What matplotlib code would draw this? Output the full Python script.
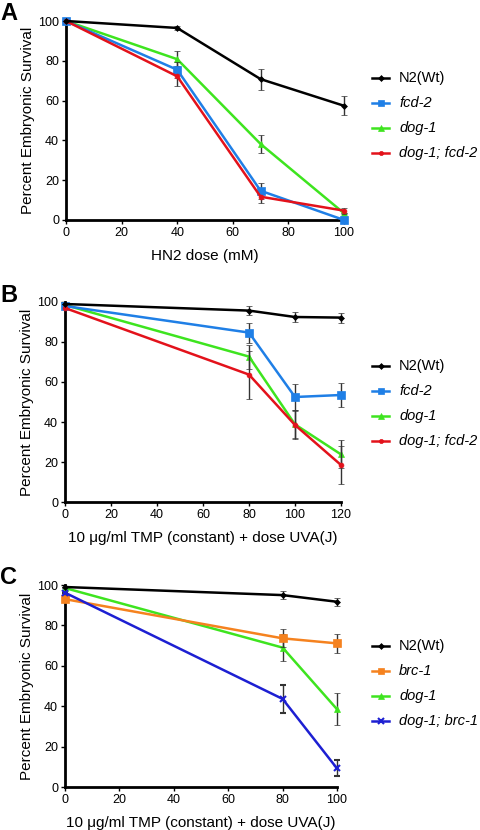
import matplotlib
matplotlib.use("Agg")
import matplotlib.pyplot as plt
from matplotlib.lines import Line2D

plt.rcParams['font.family'] = ['Liberation Sans', 'DejaVu Sans']

# ---- Panel A data ----
a_x = [0, 40, 70, 100]
a_labels = ["N2(Wt)", "fcd-2", "dog-1", "dog-1; fcd-2"]
a_n2 = [100, 96.5, 70.8, 57.4]
a_n2_err = [0, 1, 5.3, 4.8]
a_fcd2 = [100, 75.5, 14.7, 0]
a_fcd2_err = [0, 4, 4, 0]
a_dog1 = [100, 80.8, 38.2, 3.4]
a_dog1_err = [0, 4, 4.7, 0]
a_dogfcd = [100, 72.2, 11.7, 4.7]
a_dogfcd_err = [0, 5, 3, 1.5]
a_xticks = [0, 20, 40, 60, 80, 100]

# ---- Panel B data ----
b_x = [0, 80, 100, 120]
b_labels = ["N2(Wt)", "fcd-2", "dog-1", "dog-1; fcd-2"]
b_n2 = [99, 95.7, 92.5, 92.2]
b_n2_err = [0, 2.3, 2.5, 2.5]
b_fcd2 = [98, 84.7, 52.5, 53.5]
b_fcd2_err = [0, 5, 6.3, 6]
b_dog1 = [98.5, 72.7, 38.8, 23.8]
b_dog1_err = [0, 6, 7, 7]
b_dogfcd = [97, 63.7, 38.5, 18.5]
b_dogfcd_err = [0, 12, 7, 9.5]
b_xticks = [0, 20, 40, 60, 80, 100, 120]

# ---- Panel C data ----
c_x = [0, 80, 100]
c_labels = ["N2(Wt)", "brc-1", "dog-1", "dog-1; brc-1"]
c_n2 = [99, 95, 91.7]
c_n2_err = [0, 2, 2]
c_brc1 = [93, 73.6, 71.1]
c_brc1_err = [0, 4.5, 4.8]
c_dog1 = [98.5, 69, 38.5]
c_dog1_err = [0, 6.5, 8]
c_dogbrc = [96.2, 43.6, 9.2]
c_dogbrc_err = [0, 7, 4]
c_xticks = [0, 20, 40, 60, 80, 100]

yticks = [0, 20, 40, 60, 80, 100]

BLACK = "#000000"
BLUE = "#1f7fe6"
GREEN = "#3ee41f"
RED = "#e3121b"
ORANGE = "#f5821f"
DBLUE = "#1d1fd2"

fig = plt.figure(figsize=(4.8, 8.3), dpi=100)
W, H = 480, 830


def ax_at(l, r, t, b):
    return fig.add_axes([l / W, 1 - b / H, (r - l) / W, (b - t) / H])


def draw_series(ax, x, y, e, color, marker, ms, z):
    ax.errorbar(x, y, yerr=e, color=color, marker=marker, ms=ms, lw=1.8,
                ecolor="#333333", elinewidth=1.0, capsize=2.5, capthick=1.0,
                clip_on=False, zorder=z, mew=1.5 if marker == 'x' else 0.5,
                mec=color)


def style_axes(ax, xmax, xticks, xlabel):
    ax.set_xlim(0, xmax)
    ax.set_ylim(0, 100)
    ax.set_xticks(xticks)
    ax.set_yticks(yticks)
    for s in ("top", "right"):
        ax.spines[s].set_visible(False)
    for s in ("left", "bottom"):
        ax.spines[s].set_linewidth(2)
    ax.tick_params(labelsize=9, width=1, length=3, pad=2)
    ax.set_ylabel("Percent Embryonic Survival", fontsize=11, labelpad=2)
    ax.set_xlabel(xlabel, fontsize=11, labelpad=7)


def legend(handles_spec, y0):
    for i, (lab, color, marker, ms, ital) in enumerate(handles_spec):
        y = y0 + i * 25
        yf = 1 - y / H
        fig.add_artist(Line2D([372 / W, 389 / W], [yf, yf], color=color, lw=1.8,
                              transform=fig.transFigure))
        fig.add_artist(Line2D([380.5 / W], [yf], color=color, marker=marker, ms=ms,
                              mew=1.5 if marker == 'x' else 0.5, mec=color,
                              transform=fig.transFigure))
        fig.text(399 / W, yf, lab, fontsize=10.5, va="center", ha="left",
                 style="italic" if ital else "normal")


# Panel A
axA = ax_at(66, 344, 21, 220)
draw_series(axA, a_x, a_n2, a_n2_err, BLACK, "D", 3, 5)
draw_series(axA, a_x, a_fcd2, a_fcd2_err, BLUE, "s", 6, 4)
draw_series(axA, a_x, a_dog1, a_dog1_err, GREEN, "^", 5, 3)
draw_series(axA, a_x, a_dogfcd, a_dogfcd_err, RED, "o", 3.5, 4)
style_axes(axA, 100, a_xticks, "HN2 dose (mM)")
legend([(a_labels[0], BLACK, "D", 3, False), (a_labels[1], BLUE, "s", 5, True),
        (a_labels[2], GREEN, "^", 4.5, True), (a_labels[3], RED, "o", 3, True)], 78)
fig.text(0 / W, 1 - 13 / H, "A", fontsize=17, fontweight="bold", va="center", ha="left")

# Panel B
axB = ax_at(65, 341, 302, 502)
draw_series(axB, b_x, b_n2, b_n2_err, BLACK, "D", 3, 5)
draw_series(axB, b_x, b_fcd2, b_fcd2_err, BLUE, "s", 6, 4)
draw_series(axB, b_x, b_dog1, b_dog1_err, GREEN, "^", 5, 3)
draw_series(axB, b_x, b_dogfcd, b_dogfcd_err, RED, "o", 3.5, 4)
style_axes(axB, 120, b_xticks, "10 \u03bcg/ml TMP (constant) + dose UVA(J)")
legend([(b_labels[0], BLACK, "D", 3, False), (b_labels[1], BLUE, "s", 5, True),
        (b_labels[2], GREEN, "^", 4.5, True), (b_labels[3], RED, "o", 3, True)], 366)
fig.text(0 / W, 1 - 295 / H, "B", fontsize=17, fontweight="bold", va="center", ha="left")

# Panel C
axC = ax_at(65, 337, 585, 787)
draw_series(axC, c_x, c_n2, c_n2_err, BLACK, "D", 3, 5)
draw_series(axC, c_x, c_brc1, c_brc1_err, ORANGE, "s", 6, 4)
draw_series(axC, c_x, c_dog1, c_dog1_err, GREEN, "^", 5, 3)
draw_series(axC, c_x, c_dogbrc, c_dogbrc_err, DBLUE, "x", 5, 4)
style_axes(axC, 100, c_xticks, "10 \u03bcg/ml TMP (constant) + dose UVA(J)")
legend([(c_labels[0], BLACK, "D", 3, False), (c_labels[1], ORANGE, "s", 5, True),
        (c_labels[2], GREEN, "^", 4.5, True), (c_labels[3], DBLUE, "x", 4.5, True)], 646)
fig.text(0 / W, 1 - 578 / H, "C", fontsize=17, fontweight="bold", va="center", ha="left")

fig.savefig("out.png", dpi=100)
